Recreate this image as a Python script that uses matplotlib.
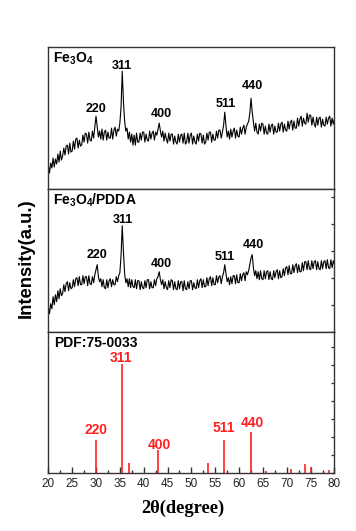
import numpy as np
import matplotlib
matplotlib.use("Agg")
import matplotlib.pyplot as plt
from matplotlib.ticker import MultipleLocator, NullLocator

plt.rcParams['font.family'] = ['Liberation Sans', 'DejaVu Sans']
plt.rcParams['mathtext.fontset'] = 'custom'
plt.rcParams['mathtext.rm'] = 'Liberation Sans:bold'
plt.rcParams['mathtext.bf'] = 'Liberation Sans:bold'
plt.rcParams['mathtext.it'] = 'Liberation Sans:bold'

# ---------------- data ----------------
two_theta_start = 20.0
two_theta_step = 0.25

# Fe3O4 pattern (a.u.), 20..80 deg every 0.25 deg
fe3o4 = [
    24, 16, 26, 21,   31, 22, 30, 25,   35, 27, 38, 29,   33, 41, 34, 43,
    44, 35, 46, 37,   38, 48, 40, 50,   51, 41, 49, 43,   44, 54, 47, 56,
    55, 46, 57, 49,   48, 58, 51, 62,   73, 62, 52, 58,   50, 60, 49, 57,
    59, 49, 57, 51,   51, 61, 50, 59,   62, 53, 60, 58,   66, 82, 118, 88,
    68, 58, 61, 50,   57, 47, 55, 44,   54, 44, 56, 47,   47, 56, 49, 57,
    57, 47, 55, 49,   48, 58, 50, 56,   58, 49, 57, 54,   60, 66, 58, 52,
    58, 48, 56, 50,   46, 56, 48, 55,   55, 45, 53, 47,   45, 55, 47, 54,
    55, 46, 56, 45,   47, 56, 46, 54,   56, 45, 53, 47,   45, 55, 48, 56,
    55, 46, 54, 45,   47, 56, 49, 57,   57, 47, 55, 49,   49, 58, 51, 59,
    59, 51, 57, 64,   77, 63, 52, 58,   50, 60, 52, 58,   61, 51, 59, 53,
    52, 62, 55, 61,   64, 55, 62, 65,   68, 76, 91, 77,   67, 58, 66, 57,
    55, 65, 58, 66,   65, 55, 63, 56,   55, 65, 57, 64,   65, 55, 63, 57,
    57, 66, 58, 65,   67, 57, 65, 59,   58, 68, 60, 67,   69, 59, 68, 61,
    61, 71, 63, 70,   73, 63, 71, 66,   65, 76, 67, 74,   74, 64, 72, 65,
    62, 72, 64, 71,   72, 62, 70, 64,   63, 72, 65, 71,   73, 63, 71, 65,
    70,
]

# Fe3O4/PDDA pattern (a.u.), 20..80 deg every 0.25 deg
fe3o4_pdda = [
    25, 18, 28, 23,   35, 27, 37, 30,   41, 33, 43, 36,   38, 47, 40, 48,
    50, 41, 49, 43,   44, 52, 45, 53,   54, 46, 55, 47,   47, 56, 48, 55,
    55, 46, 56, 48,   47, 55, 49, 57,   62, 67, 55, 50,   53, 45, 52, 44,
    43, 52, 44, 51,   53, 45, 52, 47,   47, 55, 50, 56,   59, 76, 106, 80,
    58, 49, 53, 45,   53, 44, 52, 45,   44, 52, 43, 51,   51, 42, 50, 44,
    43, 51, 44, 52,   52, 43, 50, 44,   44, 52, 46, 53,   55, 60, 52, 47,
    52, 43, 50, 44,   42, 51, 44, 52,   51, 42, 50, 43,   42, 51, 43, 50,
    50, 41, 51, 43,   42, 50, 43, 51,   51, 42, 49, 44,   43, 52, 44, 51,
    53, 44, 52, 45,   45, 54, 46, 53,   55, 46, 54, 47,   47, 56, 49, 55,
    56, 48, 55, 59,   67, 58, 50, 54,   47, 55, 48, 56,   56, 48, 57, 49,
    49, 58, 51, 57,   59, 51, 60, 57,   61, 67, 74, 77,   64, 56, 61, 53,
    60, 52, 61, 53,   52, 61, 53, 60,   61, 52, 60, 53,   52, 61, 54, 60,
    62, 53, 61, 54,   55, 63, 56, 64,   65, 57, 66, 58,   58, 67, 59, 66,
    68, 59, 67, 60,   60, 69, 61, 70,   70, 62, 71, 63,   62, 71, 63, 70,
    71, 62, 70, 63,   62, 71, 63, 70,   71, 63, 72, 64,   63, 72, 64, 71,
    67,
]

# PDF 75-0033 reference sticks
pdf_pos = [30.1, 35.4, 37.0, 43.0, 53.4, 56.9, 62.5, 65.7, 70.9, 73.9, 75.0, 78.9]
pdf_int = [30.6, 100, 8.6, 20.5, 9.2, 30, 37.6, 1.5, 3, 7.6, 5.5, 2.5]

hkl = ['220', '311', '400', '511', '440']
hkl_pdf_pos = [30.1, 35.4, 43.0, 56.9, 62.5]
hkl_pdf_int = [30.6, 100, 20.5, 30, 37.6]

x1 = two_theta_start + two_theta_step * np.arange(len(fe3o4))
x2 = two_theta_start + two_theta_step * np.arange(len(fe3o4_pdda))

# ---------------- figure ----------------
fig = plt.figure(figsize=(3.56, 5.31), dpi=100)
left, width = 0.1357, 0.8039
ax1 = fig.add_axes([left, 0.6441, width, 0.2668])
ax2 = fig.add_axes([left, 0.3753, width, 0.2688])
ax3 = fig.add_axes([left, 0.1098, width, 0.2655])

spine_col = '#333333'
for ax in (ax1, ax2, ax3):
    ax.set_xlim(20, 80)
    for s in ax.spines.values():
        s.set_color(spine_col)
        s.set_linewidth(1.0)
    ax.yaxis.set_major_locator(NullLocator())
    ax.yaxis.set_minor_locator(NullLocator())

for ax in (ax1, ax2):
    ax.xaxis.set_major_locator(NullLocator())
    ax.xaxis.set_minor_locator(NullLocator())

# panel 1
ax1.plot(x1, fe3o4, color='black', lw=0.8)
ax1.set_ylim(0, 142)
ax1.text(0.016, 0.895, r'Fe$_3$O$_4$', transform=ax1.transAxes, fontsize=10,
         fontweight='bold', va='baseline', ha='left')
lab1_x = [30.1, 35.5, 43.6, 57.3, 62.7]
lab1_y = [77.3, 120.0, 72.3, 82.3, 100.7]
for t, xx, yy in zip(hkl, lab1_x, lab1_y):
    ax1.text(xx, yy, t, fontsize=9, fontweight='bold', ha='center', va='baseline')

# panel 2
ax2.plot(x2, fe3o4_pdda, color='black', lw=0.8)
ax2.set_ylim(0, 142.7)
ax2.text(0.016, 0.888, r'Fe$_3$O$_4$/PDDA', transform=ax2.transAxes, fontsize=10,
         fontweight='bold', va='baseline', ha='left')
lab2_x = [30.3, 35.6, 43.6, 57.0, 63.0]
lab2_y = [73.4, 109.0, 64.4, 71.7, 83.4]
for t, xx, yy in zip(hkl, lab2_x, lab2_y):
    ax2.text(xx, yy, t, fontsize=9, fontweight='bold', ha='center', va='baseline')
ax2.yaxis.tick_right()
ax2.yaxis.set_major_locator(MultipleLocator(27))
ax2.tick_params(axis='y', which='major', direction='in', length=2.2, width=0.9,
                color=spine_col, labelright=False, right=True, left=False)

# panel 3
red = '#ff2020'
ax3.vlines(pdf_pos, 0, pdf_int, color=red, lw=1.2)
ax3.set_ylim(0, 130)
ax3.text(0.02, 0.891, 'PDF:75-0033', transform=ax3.transAxes, fontsize=10,
         fontweight='bold', va='baseline', ha='left')
lab3_dx = [0.0, -0.2, 0.2, -0.1, 0.2]
lab3_dy = [5.2, 2.0, 1.5, 7.9, 4.3]
for t, xx, yy, dx, dy in zip(hkl, hkl_pdf_pos, hkl_pdf_int, lab3_dx, lab3_dy):
    ax3.text(xx + dx, yy + dy, t, fontsize=10, fontweight='bold', color=red,
             ha='center', va='baseline')
ax3.yaxis.tick_right()
ax3.yaxis.set_major_locator(MultipleLocator(16.6))
ax3.tick_params(axis='y', which='major', direction='in', length=2.2, width=0.9,
                color=spine_col, labelright=False, right=True, left=False)
ax3.xaxis.set_major_locator(MultipleLocator(5))
ax3.xaxis.set_minor_locator(MultipleLocator(2.5))
ax3.tick_params(axis='x', which='major', direction='in', length=4.3, width=1.0,
                color=spine_col, labelsize=8.5, labelcolor='#222222', pad=3.5)
ax3.tick_params(axis='x', which='minor', direction='in', length=2.2, width=1.0,
                color=spine_col)

fig.text(26 / 356, 0.514, 'Intensity(a.u.)', rotation=90, fontsize=13.3,
         fontweight='bold', ha='center', va='center')
fig.text(183 / 356, 0.0333, '2θ(degree)', fontsize=13.3, fontweight='bold',
         family=['Liberation Serif', 'DejaVu Serif'], ha='center', va='baseline')

fig.savefig('out.png', dpi=100)
